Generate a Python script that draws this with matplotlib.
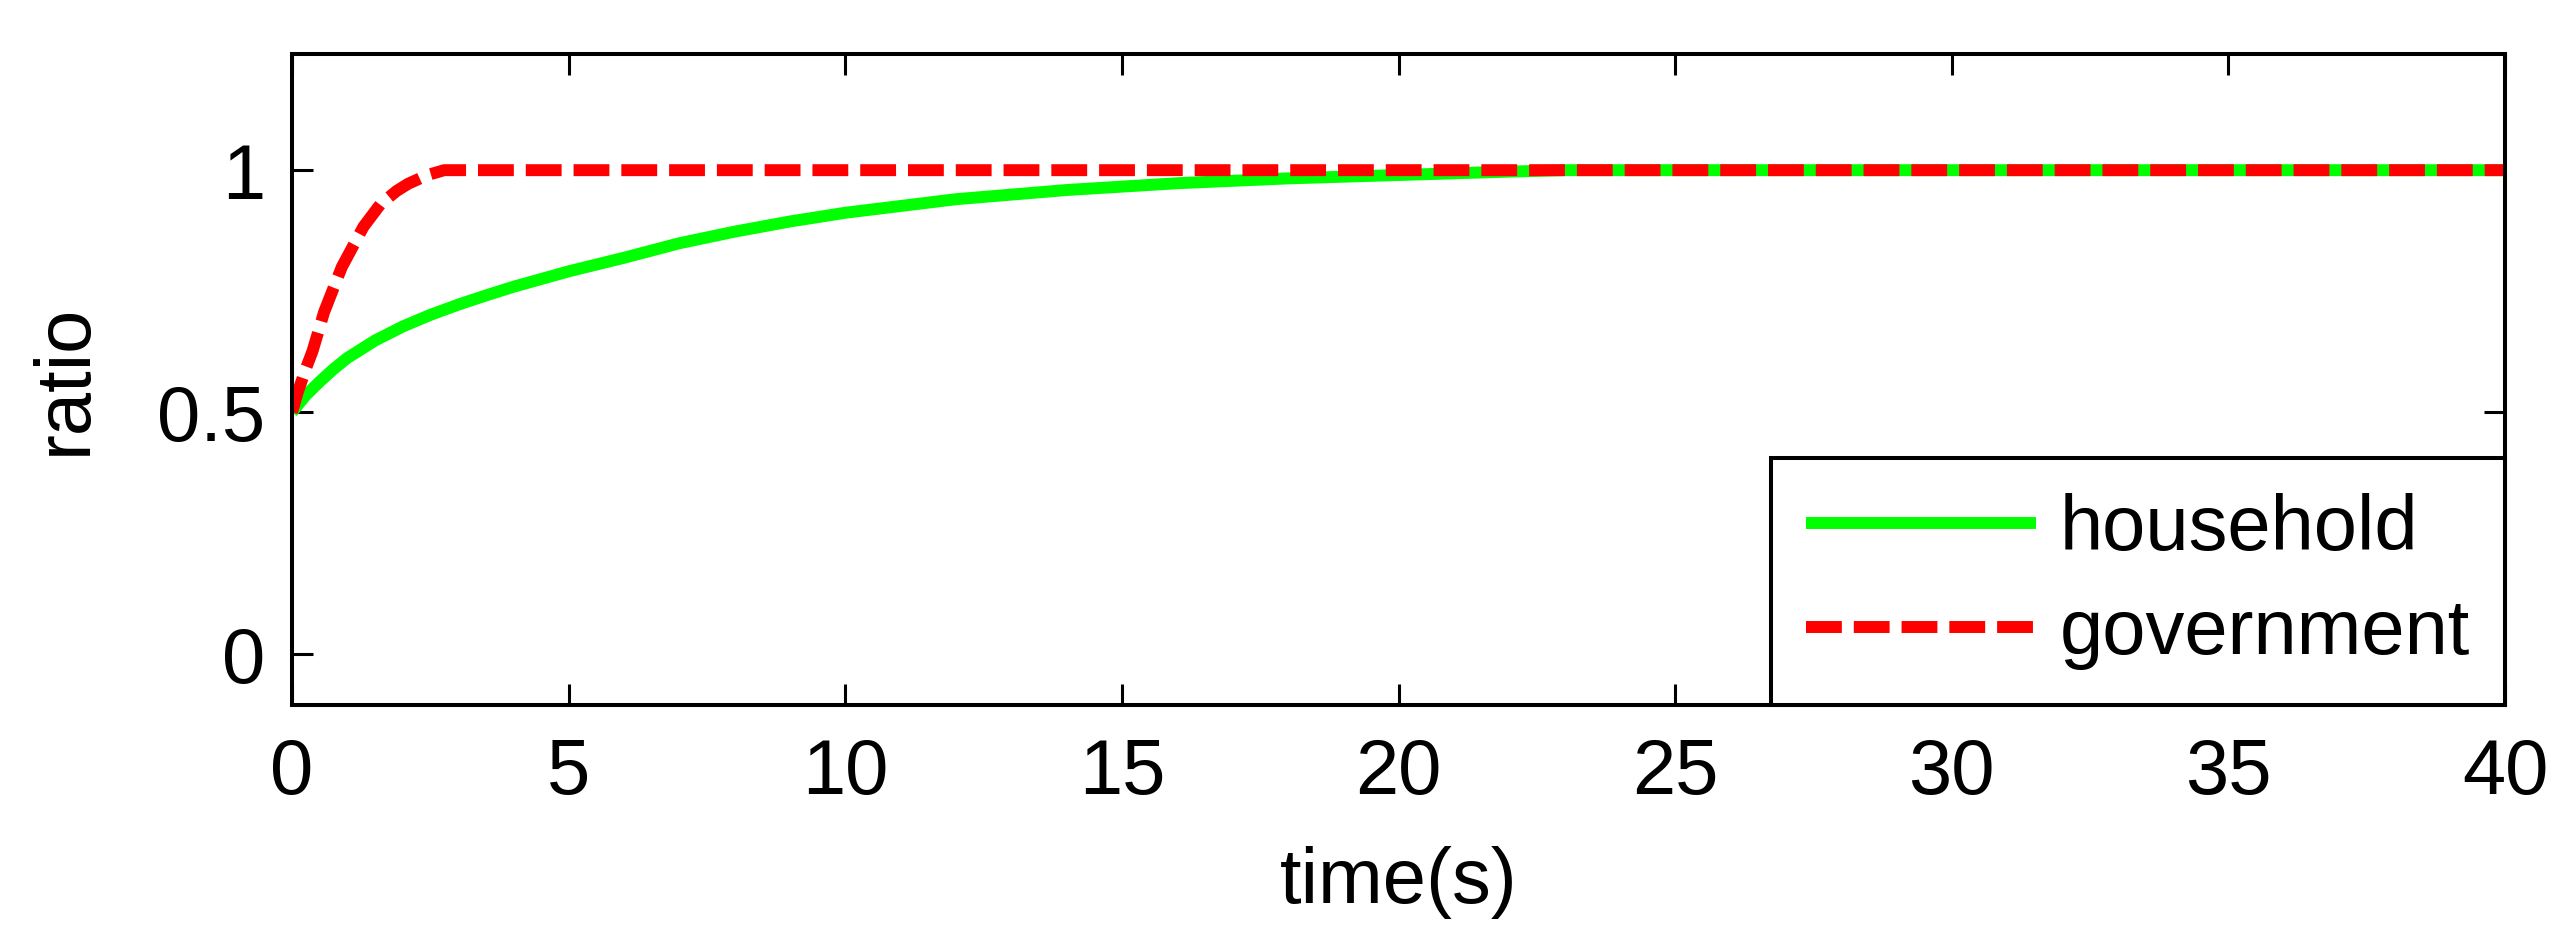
import matplotlib
matplotlib.use('agg')
import matplotlib.pyplot as plt
import numpy as np

# values
t_house = [0, 0.25, 0.5, 0.75, 1, 1.5, 2, 2.5, 3, 3.5, 4, 5, 6, 7, 8, 9, 10,
           12, 14, 16, 18, 20, 22, 23, 40]
household = [0.5, 0.535, 0.563, 0.589, 0.612, 0.648, 0.677, 0.701, 0.722, 0.741,
             0.759, 0.791, 0.819, 0.849, 0.873, 0.894, 0.912, 0.940, 0.959, 0.973,
             0.983, 0.990, 0.997, 1.0, 1.0]

t_gov = [0, 0.1, 0.25, 0.37, 0.58, 0.9, 1.29, 1.6, 1.89, 2.1, 2.45, 2.75, 40]
government = [0.5, 0.54, 0.59, 0.626, 0.707, 0.80, 0.883, 0.93, 0.957, 0.972,
              0.99, 1.0, 1.0]

xticks = [0, 5, 10, 15, 20, 25, 30, 35, 40]
yticks = [0, 0.5, 1]

plt.rcParams['font.family'] = ['Liberation Sans', 'DejaVu Sans']
fs = 56

fig = plt.figure(figsize=(25.64, 9.41), dpi=100)
ax = fig.add_axes([0.1139, 0.2508, 0.977 - 0.1139, 0.9426 - 0.2508])

ax.plot(t_house, household, color='#00ff00', lw=8.6, label='household',
        solid_capstyle='butt')
ax.plot(t_gov, government, color='#ff0000', lw=8.6, dashes=(3, 1),
        label='government', dash_capstyle='butt')

ax.set_xlim(0, 40)
ax.set_ylim(-0.105, 1.24)
ax.set_xticks(xticks)
ax.set_yticks(yticks)
ax.set_xticklabels([str(v) for v in xticks])
ax.set_yticklabels(['0', '0.5', '1'])
ax.tick_params(axis='both', direction='in', length=15, width=2.2,
               top=True, right=True, labelsize=fs)
ax.tick_params(axis='x', pad=23)
ax.tick_params(axis='y', pad=19)
for s in ax.spines.values():
    s.set_linewidth(2.9)

ax.set_xlabel('time(s)', fontsize=fs, labelpad=26)
ax.set_ylabel('ratio', fontsize=fs, labelpad=40)

leg = ax.legend(loc='lower right', fontsize=fs, borderaxespad=0, fancybox=False,
                edgecolor='black', handlelength=2.96, handletextpad=0.3,
                borderpad=0.45, labelspacing=0.4, framealpha=1)
leg.get_frame().set_linewidth(2.9)

plt.savefig('out.png', dpi=100)
